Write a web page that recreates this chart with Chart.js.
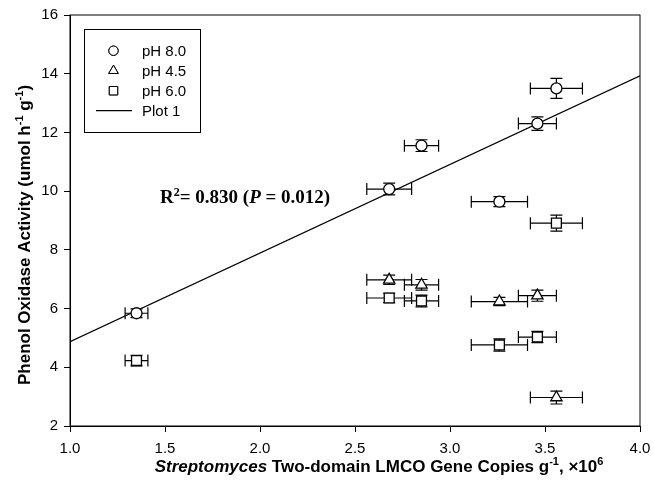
<!DOCTYPE html>
<html>
<head>
<meta charset="utf-8">
<script src="https://cdn.jsdelivr.net/npm/chart.js@4.4.1/dist/chart.umd.min.js"></script>
<style>
  html, body { margin: 0; padding: 0; background: #fff; }
  #wrap { width: 654px; height: 495px; }
</style>
</head>
<body>
<div id="wrap"><canvas id="oxidaseChart" width="654" height="495"></canvas></div>
<script>
// gene copies (x10^6) and their errors, shared by all three pH series
const geneCopies = [1.35, 2.68, 2.85, 3.26, 3.46, 3.56];
const geneCopiesErr = [0.06, 0.118, 0.09, 0.148, 0.10, 0.137];

// phenol oxidase activity per pH
const ph80 = [5.84, 10.07, 11.55, 9.64, 12.30, 13.50];
const ph80Err = [0.15, 0.2, 0.2, 0.17, 0.23, 0.34];
const ph45 = [null, 6.98, 6.81, 6.24, 6.44, 2.97];
const ph45Err = [null, 0.16, 0.18, 0.14, 0.19, 0.22];
const ph60 = [4.23, 6.36, 6.26, 4.76, 5.03, 8.91];
const ph60Err = [0.18, 0.16, 0.2, 0.21, 0.19, 0.27];

// regression line (Plot 1) end points
const fitX = [1.0, 4.0];
const fitY = [4.87, 13.93];

const xTicks = [1.0, 1.5, 2.0, 2.5, 3.0, 3.5, 4.0];
const yTicks = [2, 4, 6, 8, 10, 12, 14, 16];

const sans = "Arial, 'Liberation Sans', sans-serif";
const serif = "'Times New Roman', 'Liberation Serif', serif";

function points(ys, yErr) {
    const out = [];
    geneCopies.forEach((x, i) => {
        if (ys[i] === null) return;
        out.push({ x: x, y: ys[i], xErr: geneCopiesErr[i], yErr: yErr[i] });
    });
    return out;
}

function marker(style, radius, label, data) {
    return {
        type: 'scatter',
        label: label,
        data: data,
        pointStyle: style,
        pointRadius: radius,
        pointHoverRadius: radius,
        pointBackgroundColor: '#fff',
        pointBorderColor: '#000',
        pointBorderWidth: 1.3,
    };
}

// draw text made of several pieces (italic, superscript...)
function drawRich(ctx, parts, x, y, align) {
    let total = 0;
    parts.forEach(p => { ctx.font = p.font; total += ctx.measureText(p.t).width; });
    let cx = align === 'center' ? x - total / 2 : x;
    ctx.textAlign = 'left';
    ctx.textBaseline = 'alphabetic';
    parts.forEach(p => {
        ctx.font = p.font;
        ctx.fillText(p.t, cx, y + (p.dy || 0));
        cx += ctx.measureText(p.t).width;
    });
}

// keep the plot box fixed, whatever the tick labels need
function noPadding(s) {
    s.paddingLeft = 0; s.paddingRight = 0;
    s.paddingTop = 0; s.paddingBottom = 0;
}

const errorBars = {
    id: 'errorBars',
    beforeDatasetsDraw(chart) {
        const ctx = chart.ctx;
        const xs = chart.scales.x, ys = chart.scales.y;
        const cap = 6;
        ctx.save();
        ctx.strokeStyle = '#000';
        ctx.lineWidth = 1.2;
        chart.data.datasets.forEach(ds => {
            if (ds.type !== 'scatter') return;
            ds.data.forEach(p => {
                const px = xs.getPixelForValue(p.x);
                const py = ys.getPixelForValue(p.y);
                const x0 = xs.getPixelForValue(p.x - p.xErr);
                const x1 = xs.getPixelForValue(p.x + p.xErr);
                const y0 = ys.getPixelForValue(p.y - p.yErr);
                const y1 = ys.getPixelForValue(p.y + p.yErr);
                ctx.beginPath();
                ctx.moveTo(x0, py); ctx.lineTo(x1, py);
                ctx.moveTo(x0, py - cap); ctx.lineTo(x0, py + cap);
                ctx.moveTo(x1, py - cap); ctx.lineTo(x1, py + cap);
                ctx.moveTo(px, y0); ctx.lineTo(px, y1);
                ctx.moveTo(px - cap, y0); ctx.lineTo(px + cap, y0);
                ctx.moveTo(px - cap, y1); ctx.lineTo(px + cap, y1);
                ctx.stroke();
            });
        });
        ctx.restore();
    }
};

const decorations = {
    id: 'decorations',
    afterDraw(chart) {
        const ctx = chart.ctx;
        const a = chart.chartArea;
        ctx.save();
        ctx.strokeStyle = '#000';
        ctx.fillStyle = '#000';
        ctx.lineWidth = 1;
        ctx.strokeRect(a.left, a.top, a.right - a.left, a.bottom - a.top);

        // legend box
        ctx.strokeRect(84.5, 29.5, 116, 103);
        const rows = [50.7, 70.7, 90.7, 110.7];
        chart.data.datasets.forEach((ds, i) => {
            const ry = rows[i];
            if (ds.type === 'scatter') {
                Chart.helpers.drawPoint(ctx, {
                    pointStyle: ds.pointStyle,
                    radius: ds.pointRadius * 0.85,
                    borderWidth: 1.2,
                    rotation: 0
                }, 113.5, ry);
                ctx.fillStyle = '#fff';
                ctx.fill();
                ctx.stroke();
                ctx.fillStyle = '#000';
            } else {
                ctx.beginPath();
                ctx.lineWidth = 1.2;
                ctx.moveTo(96, ry); ctx.lineTo(132, ry);
                ctx.stroke();
                ctx.lineWidth = 1;
            }
            ctx.font = '15px ' + sans;
            ctx.textAlign = 'left';
            ctx.textBaseline = 'middle';
            ctx.fillText(ds.label, 142, ry + 1);
        });

        // fit statistics
        const b = 'bold 19px ' + serif;
        const bi = 'italic bold 19px ' + serif;
        const bs = 'bold 12px ' + serif;
        drawRich(ctx, [
            { t: 'R', font: b }, { t: '2', font: bs, dy: -7 },
            { t: '= 0.830 (', font: b }, { t: 'P', font: bi },
            { t: ' = 0.012)', font: b }
        ], 160, 203, 'left');

        // x axis title
        const tb = 'bold 17px ' + sans;
        const ti = 'italic bold 17px ' + sans;
        const ts = 'bold 11px ' + sans;
        drawRich(ctx, [
            { t: 'Streptomyces', font: ti }, { t: ' Two-domain LMCO Gene Copies g', font: tb },
            { t: '-1', font: ts, dy: -7 }, { t: ', \u00d710', font: tb }, { t: '6', font: ts, dy: -7 }
        ], 379, 472, 'center');

        // y axis title
        ctx.translate(30, 235);
        ctx.rotate(-Math.PI / 2);
        drawRich(ctx, [
            { t: 'Phenol Oxidase Activity (umol h', font: tb }, { t: '-1', font: ts, dy: -7 },
            { t: ' g', font: tb }, { t: '-1', font: ts, dy: -7 }, { t: ')', font: tb }
        ], 0, 0, 'center');
        ctx.restore();
    }
};

const ctx = document.getElementById('oxidaseChart').getContext('2d');
const oxidaseChart = new Chart(ctx, {
    data: {
        datasets: [
            marker('circle', 5.5, 'pH 8.0', points(ph80, ph80Err)),
            marker('triangle', 6.5, 'pH 4.5', points(ph45, ph45Err)),
            marker('rect', 7, 'pH 6.0', points(ph60, ph60Err)),
            {
                type: 'line',
                label: 'Plot 1',
                data: fitX.map((x, i) => ({ x: x, y: fitY[i] })),
                borderColor: '#000',
                borderWidth: 1.2,
                pointRadius: 0,
                fill: false,
            },
        ],
    },
    options: {
        responsive: false,
        animation: false,
        layout: { padding: { left: 0, top: 15, right: 14, bottom: 0 } },
        plugins: {
            legend: { display: false },
            tooltip: { enabled: false },
        },
        scales: {
            x: {
                type: 'linear',
                min: 1,
                max: 4,
                afterBuildTicks: s => { s.ticks = xTicks.map(v => ({ value: v })); },
                afterFit: s => { s.height = 69; noPadding(s); },
                ticks: {
                    color: '#000',
                    padding: 8,
                    font: { family: sans, size: 15 },
                    callback: v => v.toFixed(1),
                },
                grid: { drawOnChartArea: false, color: '#000', tickLength: 6 },
                border: { color: '#000', width: 1 },
            },
            y: {
                type: 'linear',
                min: 2,
                max: 16,
                afterBuildTicks: s => { s.ticks = yTicks.map(v => ({ value: v })); },
                afterFit: s => { s.width = 70; noPadding(s); },
                ticks: {
                    color: '#000',
                    padding: 6,
                    font: { family: sans, size: 15 },
                },
                grid: { drawOnChartArea: false, color: '#000', tickLength: 6 },
                border: { color: '#000', width: 1 },
            },
        },
    },
    plugins: [errorBars, decorations],
});
</script>
</body>
</html>
